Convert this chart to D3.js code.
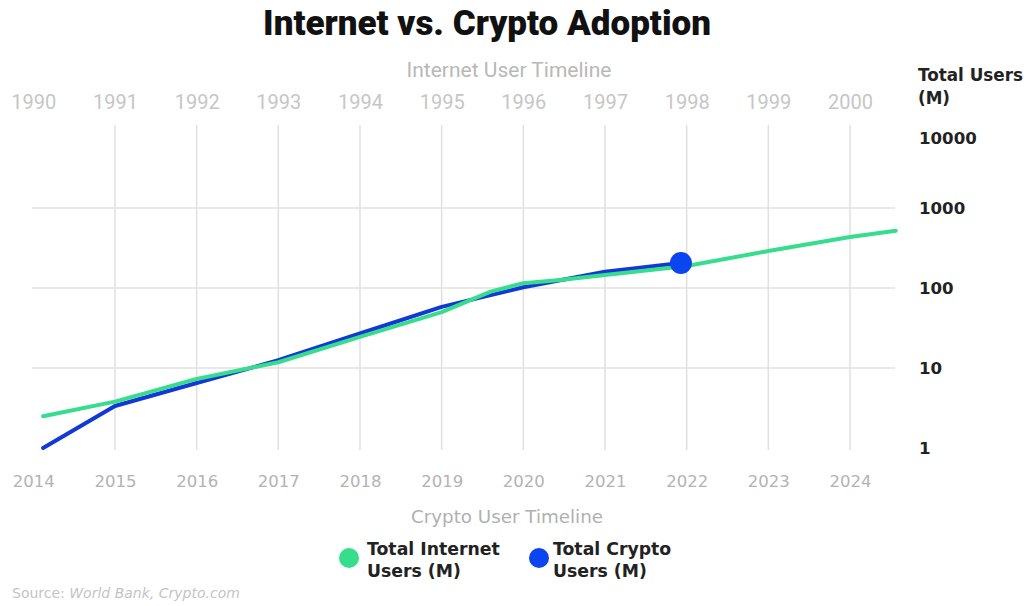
<!DOCTYPE html>
<html>
<head>
<meta charset="utf-8">
<script src="https://cdn.jsdelivr.net/npm/d3@7"></script>
<style>
  html, body { margin: 0; padding: 0; background: #fff; }
  svg { display: block; }
</style>
</head>
<body>
<svg id="chart" width="1027" height="606"></svg>
<script>
// ---- data ----
const internetYearTicks = [1990, 1991, 1992, 1993, 1994, 1995, 1996, 1997, 1998, 1999, 2000];
const cryptoYearTicks = [2014, 2015, 2016, 2017, 2018, 2019, 2020, 2021, 2022, 2023, 2024];
const userTicks = [1, 10, 100, 1000, 10000];

const internetYears = [1990.12, 1991, 1992, 1993, 1994, 1995, 1995.6, 1996, 1996.45, 1997, 1998, 1999, 2000, 2000.56];
const internetUsers = [2.5, 3.8, 7.3, 11.8, 24.5, 50, 90, 115, 126, 145, 188, 290, 434, 518];

const cryptoYears = [2014.12, 2015, 2016, 2017, 2018, 2019, 2020, 2021, 2021.93];
const cryptoUsers = [1.0, 3.35, 6.5, 12.5, 27, 58, 102, 160, 205];

const titleText = "Internet vs. Crypto Adoption";
const topAxisTitle = "Internet User Timeline";
const bottomAxisTitle = "Crypto User Timeline";
const yAxisTitle = ["Total Users", "(M)"];
const legendItems = [
  { lines: ["Total Internet", "Users (M)"], color: "#35dd8d" },
  { lines: ["Total Crypto", "Users (M)"], color: "#0a45f0" }
];

// ---- layout ----
const svg = d3.select("#chart");
const left = 33.3, right = 850;
const yBottom = 448, yTop = 128;

const xCrypto = d3.scaleLinear().domain([2014, 2024]).range([left, right]);
const xInternet = d3.scaleLinear().domain([1990, 2000]).range([left, right]);
const y = d3.scaleLog().domain([1, 10000]).range([yBottom, yTop]);

const gridColor = "#e0e0e0";

// vertical gridlines (crypto years except first)
svg.append("g").selectAll("line")
  .data(cryptoYearTicks.slice(1))
  .join("line")
  .attr("x1", d => xCrypto(d)).attr("x2", d => xCrypto(d))
  .attr("y1", 125).attr("y2", 450)
  .attr("stroke", gridColor).attr("stroke-width", 1.5);

// horizontal gridlines
svg.append("g").selectAll("line")
  .data([10, 100, 1000])
  .join("line")
  .attr("x1", 32).attr("x2", 895)
  .attr("y1", d => y(d)).attr("y2", d => y(d))
  .attr("stroke", gridColor).attr("stroke-width", 1.5);

// title
svg.append("text")
  .attr("x", 487).attr("y", 35)
  .attr("text-anchor", "middle")
  .attr("font-family", "Roboto, sans-serif")
  .attr("font-weight", 900)
  .attr("font-size", 35)
  .attr("letter-spacing", 0)
  .attr("fill", "#111")
  .text(titleText);

// top axis (internet years)
const topAxis = d3.axisTop(xInternet).tickValues(internetYearTicks).tickFormat(d3.format("d")).tickSize(0).tickPadding(0);
const gTop = svg.append("g").attr("transform", "translate(0,109)").call(topAxis);
gTop.select(".domain").remove();
gTop.selectAll("text")
  .attr("font-family", "'Liberation Sans Narrow', 'Roboto', sans-serif")
  .attr("font-size", 20)
  .attr("fill", "#c6c6c6")
  .attr("dy", 0);

svg.append("text")
  .attr("x", 509).attr("y", 77)
  .attr("text-anchor", "middle")
  .attr("font-family", "'Liberation Sans Narrow', 'Roboto', sans-serif")
  .attr("font-size", 21)
  .attr("fill", "#b8b8b8")
  .text(topAxisTitle);

// bottom axis (crypto years)
const bottomAxis = d3.axisBottom(xCrypto).tickValues(cryptoYearTicks).tickFormat(d3.format("d")).tickSize(0).tickPadding(0);
const gBottom = svg.append("g").attr("transform", "translate(0,475)").call(bottomAxis);
gBottom.select(".domain").remove();
gBottom.selectAll("text")
  .attr("font-family", "'DejaVu Sans', sans-serif")
  .attr("font-size", 16.5)
  .attr("fill", "#b3b3b3")
  .attr("dy", "0.71em");

svg.append("text")
  .attr("x", 507).attr("y", 523)
  .attr("text-anchor", "middle")
  .attr("font-family", "'DejaVu Sans', sans-serif")
  .attr("font-size", 18.3)
  .attr("fill", "#b0b0b0")
  .text(bottomAxisTitle);

// right axis
const rightAxis = d3.axisRight(y).tickValues(userTicks).tickFormat(d3.format("d")).tickSize(0).tickPadding(0);
const gRight = svg.append("g").attr("transform", "translate(919,0)").call(rightAxis);
gRight.select(".domain").remove();
gRight.selectAll("text")
  .attr("font-family", "'DejaVu Sans', sans-serif")
  .attr("font-weight", "bold")
  .attr("font-size", 16.6)
  .attr("fill", "#222")
  .attr("text-anchor", "start")
  .attr("dy", d => d === 10000 ? "0.95em" : "0.35em");

const yTitle = svg.append("text")
  .attr("font-family", "'DejaVu Sans', sans-serif")
  .attr("font-weight", "bold")
  .attr("font-size", 16.8)
  .attr("fill", "#222");
yTitle.selectAll("tspan").data(yAxisTitle).join("tspan")
  .attr("x", 918).attr("y", (d, i) => 81 + i * 23)
  .text(d => d);

// lines
const lineInternet = d3.line().x(d => xInternet(d[0])).y(d => y(d[1]));
const lineCrypto = d3.line().x(d => xCrypto(d[0])).y(d => y(d[1]));

svg.append("path")
  .datum(d3.zip(cryptoYears, cryptoUsers))
  .attr("d", lineCrypto)
  .attr("fill", "none")
  .attr("stroke", "#1238d6")
  .attr("stroke-width", 4)
  .attr("stroke-linejoin", "round")
  .attr("stroke-linecap", "round");

svg.append("path")
  .datum(d3.zip(internetYears, internetUsers))
  .attr("d", lineInternet)
  .attr("fill", "none")
  .attr("stroke", "#35dd8d")
  .attr("stroke-width", 4)
  .attr("stroke-linejoin", "round")
  .attr("stroke-linecap", "round");

// end dot for crypto
const lastIdx = cryptoYears.length - 1;
svg.append("circle")
  .attr("cx", xCrypto(cryptoYears[lastIdx]))
  .attr("cy", y(cryptoUsers[lastIdx]))
  .attr("r", 11)
  .attr("fill", "#0a45f0");

// legend
const legendX = [349, 539];
const lg = svg.append("g");
legendItems.forEach((item, i) => {
  const g = lg.append("g").attr("transform", `translate(${legendX[i]},558)`);
  g.append("circle").attr("r", 10).attr("fill", item.color);
  const t = g.append("text")
    .attr("font-family", "'DejaVu Sans', sans-serif")
    .attr("font-weight", "bold")
    .attr("font-size", 17.3)
    .attr("fill", "#222");
  t.selectAll("tspan").data(item.lines).join("tspan")
    .attr("x", i === 0 ? 18 : 14).attr("y", (d, j) => -3 + j * 22)
    .text(d => d);
});

// source
const src = svg.append("text")
  .attr("x", 12).attr("y", 598)
  .attr("font-family", "'DejaVu Sans', sans-serif")
  .attr("font-size", 14)
  .attr("fill", "#c4c4c4");
src.append("tspan").text("Source: ");
src.append("tspan").attr("font-style", "italic").text("World Bank, Crypto.com");
</script>
</body>
</html>
